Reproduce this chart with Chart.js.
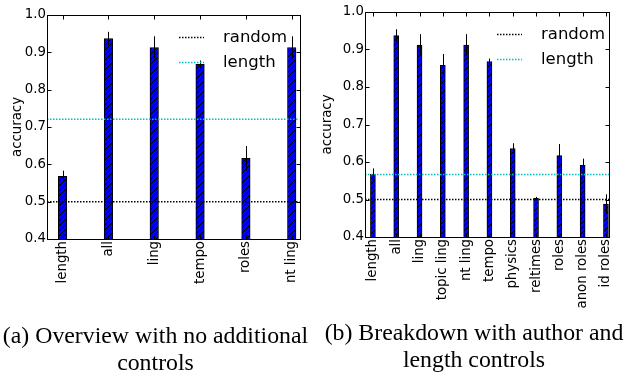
<!DOCTYPE html>
<html>
<head>
<meta charset="utf-8">
<script src="https://cdn.jsdelivr.net/npm/chart.js@4.4.1/dist/chart.umd.min.js"></script>
<style>
    body { margin: 0; background: #fff; }
    #wrap { position: relative; width: 624px; height: 373px; overflow: hidden; }
    canvas { position: absolute; top: 0; }
    #leftChart { left: 0; }
    #rightChart { left: 310px; }
    .caption {
        position: absolute;
        font-family: "Liberation Serif", "Times New Roman", serif;
        font-size: 23.8px;
        line-height: 27px;
        text-align: center;
        color: #000;
        white-space: nowrap;
    }
    #capA { left: 0; width: 311px; top: 322px; }
    #capB { left: 318px; width: 312px; top: 319px; }
</style>
</head>
<body>
<div id="wrap">
    <canvas id="leftChart" width="310" height="373"></canvas>
    <canvas id="rightChart" width="314" height="373"></canvas>
    <div class="caption" id="capA">(a) Overview with no additional<br>controls</div>
    <div class="caption" id="capB">(b) Breakdown with author and<br>length controls</div>
</div>

<script>
// Overview (no additional controls)
const leftCategories = ['length', 'all', 'ling', 'tempo', 'roles', 'nt ling'];
const leftAccuracy = [0.568, 0.937, 0.913, 0.868, 0.616, 0.913];
const leftError = [0.015, 0.018, 0.030, 0.010, 0.033, 0.030];
const leftRandom = 0.5;
const leftLength = 0.721;

// Breakdown (author and length controls)
const rightCategories = ['length', 'all', 'ling', 'topic ling', 'nt ling', 'tempo',
    'physics', 'reltimes', 'roles', 'anon roles', 'id roles'];
const rightAccuracy = [0.567, 0.937, 0.912, 0.858, 0.912, 0.868, 0.636, 0.503, 0.617, 0.591, 0.488];
const rightError = [0.016, 0.017, 0.029, 0.030, 0.029, 0.008, 0.014, 0.004, 0.031, 0.018, 0.026];
const rightRandom = 0.5;
const rightLength = 0.567;

const yTicks = [0.4, 0.5, 0.6, 0.7, 0.8, 0.9, 1.0];
const FONT = 'DejaVu Sans';

// Blue fill with black "////" hatching
function makeHatch() {
    const size = 5;
    const c = document.createElement('canvas');
    c.width = size;
    c.height = size;
    const g = c.getContext('2d');
    g.fillStyle = '#0000ff';
    g.fillRect(0, 0, size, size);
    g.strokeStyle = '#000';
    g.lineWidth = 1;
    g.beginPath();
    g.moveTo(-1, size + 1);
    g.lineTo(size + 1, -1);
    g.moveTo(-1, 1);
    g.lineTo(1, -1);
    g.moveTo(size - 1, size + 1);
    g.lineTo(size + 1, size - 1);
    g.stroke();
    return g.createPattern(c, 'repeat');
}

// Error bars, frame, inward ticks and in-plot legend
const decorPlugin = {
    id: 'decor',
    afterDatasetsDraw(chart) {
        const ctx = chart.ctx;
        const xs = chart.scales.x;
        const ys = chart.scales.y;
        const errs = chart.options.plugins.decor.errors;
        const bars = chart.data.datasets[2].data;

        ctx.save();
        ctx.strokeStyle = '#000';
        ctx.lineWidth = 1;
        bars.forEach((p, i) => {
            const x = Math.round(xs.getPixelForValue(p.x)) + 0.5;
            ctx.beginPath();
            ctx.moveTo(x, ys.getPixelForValue(p.y - errs[i]));
            ctx.lineTo(x, ys.getPixelForValue(p.y + errs[i]));
            ctx.stroke();
        });
        ctx.restore();
    },
    afterDraw(chart) {
        const ctx = chart.ctx;
        const a = chart.chartArea;
        const xs = chart.scales.x;
        const ys = chart.scales.y;
        const L = Math.round(a.left) + 0.5;
        const R = Math.round(a.right) + 0.5;
        const T = Math.round(a.top) + 0.5;
        const B = Math.round(a.bottom) + 0.5;

        ctx.save();
        ctx.strokeStyle = '#000';
        ctx.lineWidth = 1;
        ctx.strokeRect(L, T, R - L, B - T);

        // inward tick marks
        ctx.beginPath();
        yTicks.forEach(v => {
            const y = Math.round(ys.getPixelForValue(v)) + 0.5;
            ctx.moveTo(L, y); ctx.lineTo(L + 4, y);
            ctx.moveTo(R, y); ctx.lineTo(R - 4, y);
        });
        xs.ticks.forEach(t => {
            const x = Math.round(xs.getPixelForValue(t.value)) + 0.5;
            ctx.moveTo(x, T); ctx.lineTo(x, T + 4);
            ctx.moveTo(x, B); ctx.lineTo(x, B - 4);
        });
        ctx.stroke();

        // legend
        ctx.font = '16.5px "' + FONT + '"';
        ctx.textBaseline = 'middle';
        ctx.fillStyle = '#000';
        chart.data.datasets.slice(0, 2).forEach((ds, i) => {
            const y = Math.round(a.top + 21.5 + i * 25.5) + 0.5;
            ctx.strokeStyle = ds.borderColor;
            ctx.lineWidth = 1.5;
            ctx.setLineDash([1.5, 1.5]);
            ctx.beginPath();
            ctx.moveTo(a.left + 132, y);
            ctx.lineTo(a.left + 157, y);
            ctx.stroke();
            ctx.setLineDash([]);
            ctx.fillText(ds.label, a.left + 176, y);
        });
        ctx.restore();
    }
};

// Create one accuracy chart
function createChart(canvasId, categories, accuracy, errors, randomLevel, lengthLevel, opts) {
    const ctx = document.getElementById(canvasId).getContext('2d');
    const xMin = -0.34;
    const xMax = opts.xMax;

    return new Chart(ctx, {
        type: 'bar',
        data: {
            datasets: [
                {
                    type: 'line',
                    label: 'random',
                    data: [{ x: xMin, y: randomLevel }, { x: xMax, y: randomLevel }],
                    borderColor: '#000000',
                    borderWidth: 1.5,
                    borderDash: [1.5, 1.5],
                    pointRadius: 0,
                    order: 1
                },
                {
                    type: 'line',
                    label: 'length',
                    data: [{ x: xMin, y: lengthLevel }, { x: xMax, y: lengthLevel }],
                    borderColor: '#00bfbf',
                    borderWidth: 1.5,
                    borderDash: [1.5, 1.5],
                    pointRadius: 0,
                    order: 1
                },
                {
                    label: 'accuracy',
                    data: accuracy.map((v, i) => ({ x: i, y: v })),
                    backgroundColor: makeHatch(),
                    borderColor: '#000',
                    borderWidth: 1,
                    borderSkipped: false,
                    barThickness: opts.barThickness,
                    grouped: false,
                    order: 2
                }
            ]
        },
        options: {
            responsive: false,
            animation: false,
            devicePixelRatio: 1,
            layout: {
                padding: { top: opts.top, right: opts.right, left: 0, bottom: 0 }
            },
            plugins: {
                legend: { display: false },
                tooltip: { enabled: false },
                decor: { errors: errors }
            },
            scales: {
                x: {
                    type: 'linear',
                    min: xMin,
                    max: xMax,
                    offset: false,
                    grid: { display: false, drawTicks: false },
                    border: { display: false },
                    afterBuildTicks: scale => {
                        scale.ticks = categories.map((c, i) => ({ value: i }));
                    },
                    afterFit: scale => { scale.height = opts.xHeight; },
                    ticks: {
                        autoSkip: false,
                        maxRotation: 90,
                        minRotation: 90,
                        padding: 2,
                        color: '#000',
                        font: { family: FONT, size: 13.3 },
                        callback: v => categories[v]
                    }
                },
                y: {
                    min: 0.4,
                    max: 1.0,
                    grid: { display: false, drawTicks: false },
                    border: { display: false },
                    afterBuildTicks: scale => {
                        scale.ticks = yTicks.map(v => ({ value: v }));
                    },
                    afterFit: scale => { scale.width = opts.yWidth; },
                    ticks: {
                        padding: 1,
                        color: '#000',
                        font: { family: FONT, size: 13.3 },
                        callback: v => v.toFixed(1)
                    },
                    title: {
                        display: true,
                        text: 'accuracy',
                        color: '#000',
                        font: { family: FONT, size: 13.3 },
                        padding: { top: 10, bottom: 0 }
                    }
                }
            }
        },
        plugins: [decorPlugin]
    });
}

// Initialize
createChart('leftChart', leftCategories, leftAccuracy, leftError, leftRandom, leftLength, {
    xMax: 5.17, barThickness: 8.5, top: 15, right: 10, yWidth: 47, xHeight: 134
});
createChart('rightChart', rightCategories, rightAccuracy, rightError, rightRandom, rightLength, {
    xMax: 10.15, barThickness: 5, top: 12, right: 6, yWidth: 55, xHeight: 136
});
</script>
</body>
</html>
